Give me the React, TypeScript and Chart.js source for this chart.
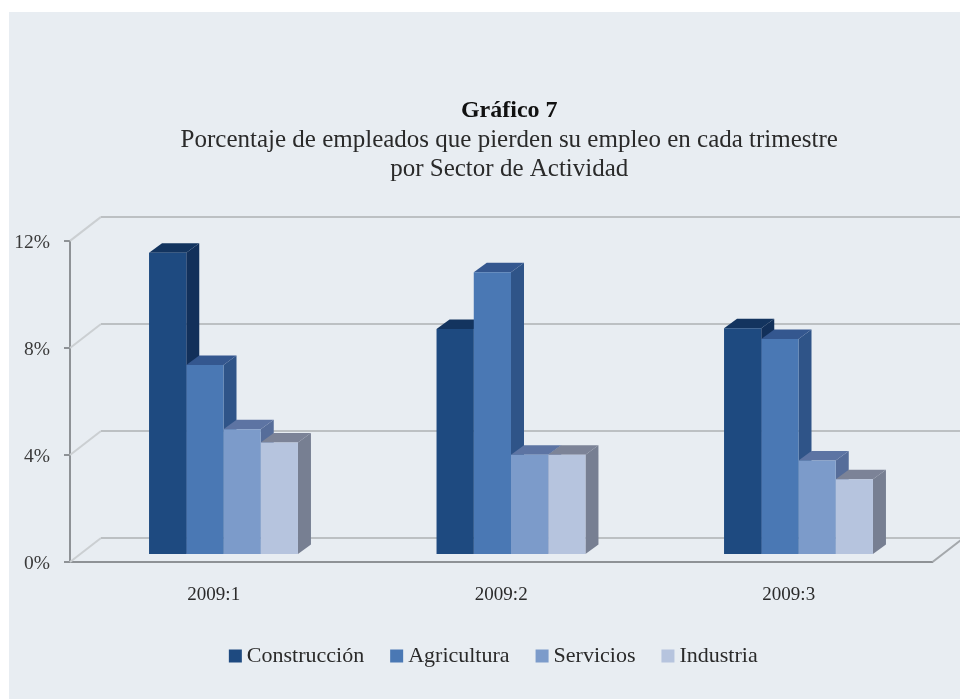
import React, { useEffect, useRef } from "react";
import { Chart, registerables } from "chart.js";

Chart.register(...registerables);

const categories = ["2009:1", "2009:2", "2009:3"];
const construccion = [11.3, 8.45, 8.47];
const agricultura = [7.1, 10.57, 8.07];
const servicios = [4.7, 3.75, 3.53];
const industria = [4.2, 3.75, 2.83];

const seriesNames = ["Construcción", "Agricultura", "Servicios", "Industria"];
const frontColors = ["#1e4a80", "#4a78b4", "#7c9bca", "#b6c4de"];
const sideColors = ["#12305a", "#2f5488", "#566d9a", "#777f92"];
const topColors = ["#13345f", "#34578f", "#5d74a3", "#7c8397"];

const SERIF = '"Liberation Serif", serif';
const PANEL = "#e8edf2";
const TITLE_SHIFT = 43;
const LEGEND_SHIFT = 30;

const depth3d = {
  id: "depth3d",
  afterLayout(chart: any) {
    chart.boxes.forEach((box: any) => {
      const isTitle = box.options && box.options.text !== undefined && box.position === "top";
      const isLegend = box === chart.legend;
      const shift = isTitle ? TITLE_SHIFT : isLegend ? LEGEND_SHIFT : 0;
      box.left += shift;
      box.right += shift;
    });
  },
  beforeDraw(chart: any) {
    const { ctx, width, height } = chart;
    ctx.save();
    ctx.fillStyle = "#ffffff";
    ctx.fillRect(0, 0, width, height);
    ctx.fillStyle = PANEL;
    ctx.fillRect(9, 12, width - 9, height - 12);
    ctx.restore();
  },
  beforeDatasetsDraw(chart: any) {
    const { ctx, scales, chartArea, width } = chart;
    const y = scales.y;
    const wallDx = 31;
    const wallDy = -24;
    ctx.save();
    y.ticks.forEach((t: any) => {
      const py = y.getPixelForValue(t.value);
      ctx.strokeStyle = "#cbcfd2";
      ctx.lineWidth = 2;
      ctx.beginPath();
      ctx.moveTo(chartArea.left, py);
      ctx.lineTo(chartArea.left + wallDx, py + wallDy);
      ctx.stroke();
      ctx.strokeStyle = "#bcc0c3";
      ctx.beginPath();
      ctx.moveTo(chartArea.left + wallDx, py + wallDy);
      ctx.lineTo(width, py + wallDy);
      ctx.stroke();
    });
    const py0 = y.getPixelForValue(0);
    ctx.strokeStyle = "#a4a8ac";
    ctx.lineWidth = 2;
    ctx.beginPath();
    ctx.moveTo(chartArea.right, py0);
    ctx.lineTo(chartArea.right + wallDx, py0 + wallDy);
    ctx.stroke();
    ctx.restore();

    ctx.save();
    ctx.translate(9.75, -7);
    const dx = 13;
    const dy = -9.5;
    categories.forEach((_, i) => {
      seriesNames.forEach((_n, d) => {
        const el = chart.getDatasetMeta(d).data[i];
        const half = el.width / 2;
        const l = el.x - half;
        const r = el.x + half;
        const t = el.y;
        const b = el.base;
        ctx.fillStyle = sideColors[d];
        ctx.beginPath();
        ctx.moveTo(r, t);
        ctx.lineTo(r + dx, t + dy);
        ctx.lineTo(r + dx, b + dy);
        ctx.lineTo(r, b);
        ctx.closePath();
        ctx.fill();
        ctx.fillStyle = topColors[d];
        ctx.beginPath();
        ctx.moveTo(l, t);
        ctx.lineTo(l + dx, t + dy);
        ctx.lineTo(r + dx, t + dy);
        ctx.lineTo(r, t);
        ctx.closePath();
        ctx.fill();
      });
    });
  },
  afterDatasetsDraw(chart: any) {
    chart.ctx.restore();
  },
};

export default function App() {
  const ref = useRef<HTMLCanvasElement>(null);
  useEffect(() => {
    document.body.style.margin = "0";
    const values = [construccion, agricultura, servicios, industria];
    const chart = new Chart(ref.current!, {
      type: "bar",
      data: {
        labels: categories,
        datasets: seriesNames.map((name, i) => ({
          label: name,
          data: values[i],
          backgroundColor: frontColors[i],
          barPercentage: 1,
          categoryPercentage: 0.518,
          clip: false as any,
        })),
      },
      options: {
        responsive: false,
        animation: false,
        devicePixelRatio: 1,
        layout: { padding: { left: 0, right: 27.5, top: 0, bottom: 22 } },
        plugins: {
          tooltip: { enabled: false },
          title: {
            display: true,
            text: "Gráfico 7",
            color: "#111111",
            font: { family: SERIF, size: 24, weight: "bold" },
            padding: { top: 96.6, bottom: 1 },
          },
          subtitle: {
            display: true,
            text: [
              "Porcentaje de empleados que pierden su empleo en cada trimestre",
              "por Sector de Actividad",
            ],
            color: "#2a2a2a",
            font: { family: SERIF, size: 25, lineHeight: 1.16 },
            padding: { top: 0, bottom: 56.5 },
          },
          legend: {
            position: "bottom",
            labels: {
              usePointStyle: true,
              pointStyle: "rect",
              boxWidth: 1,
              boxHeight: 13,
              padding: 32,
              color: "#2a2a2a",
              font: { family: SERIF, size: 22 },
            },
          },
        },
        scales: {
          x: {
            afterFit(scale: any) {
              scale.height = 51;
            },
            grid: { display: false },
            border: { color: "#8e9296", width: 2 },
            ticks: { color: "#2a2a2a", font: { family: SERIF, size: 19 }, padding: 14 },
          },
          y: {
            min: 0,
            max: 12,
            afterFit(scale: any) {
              scale.width = 70;
            },
            grid: { drawOnChartArea: false, color: "#8e9296", lineWidth: 2, tickLength: 6 },
            border: { color: "#8e9296", width: 2 },
            ticks: {
              stepSize: 4,
              color: "#3a3a3a",
              font: { family: SERIF, size: 19.5 },
              padding: 14,
              labelOffset: 2,
              callback: (v: any) => v + "%",
            },
          },
        },
      },
      plugins: [depth3d],
    } as any);
    return () => chart.destroy();
  }, []);
  return <canvas ref={ref} width={960} height={699} style={{ display: "block" }} />;
}
